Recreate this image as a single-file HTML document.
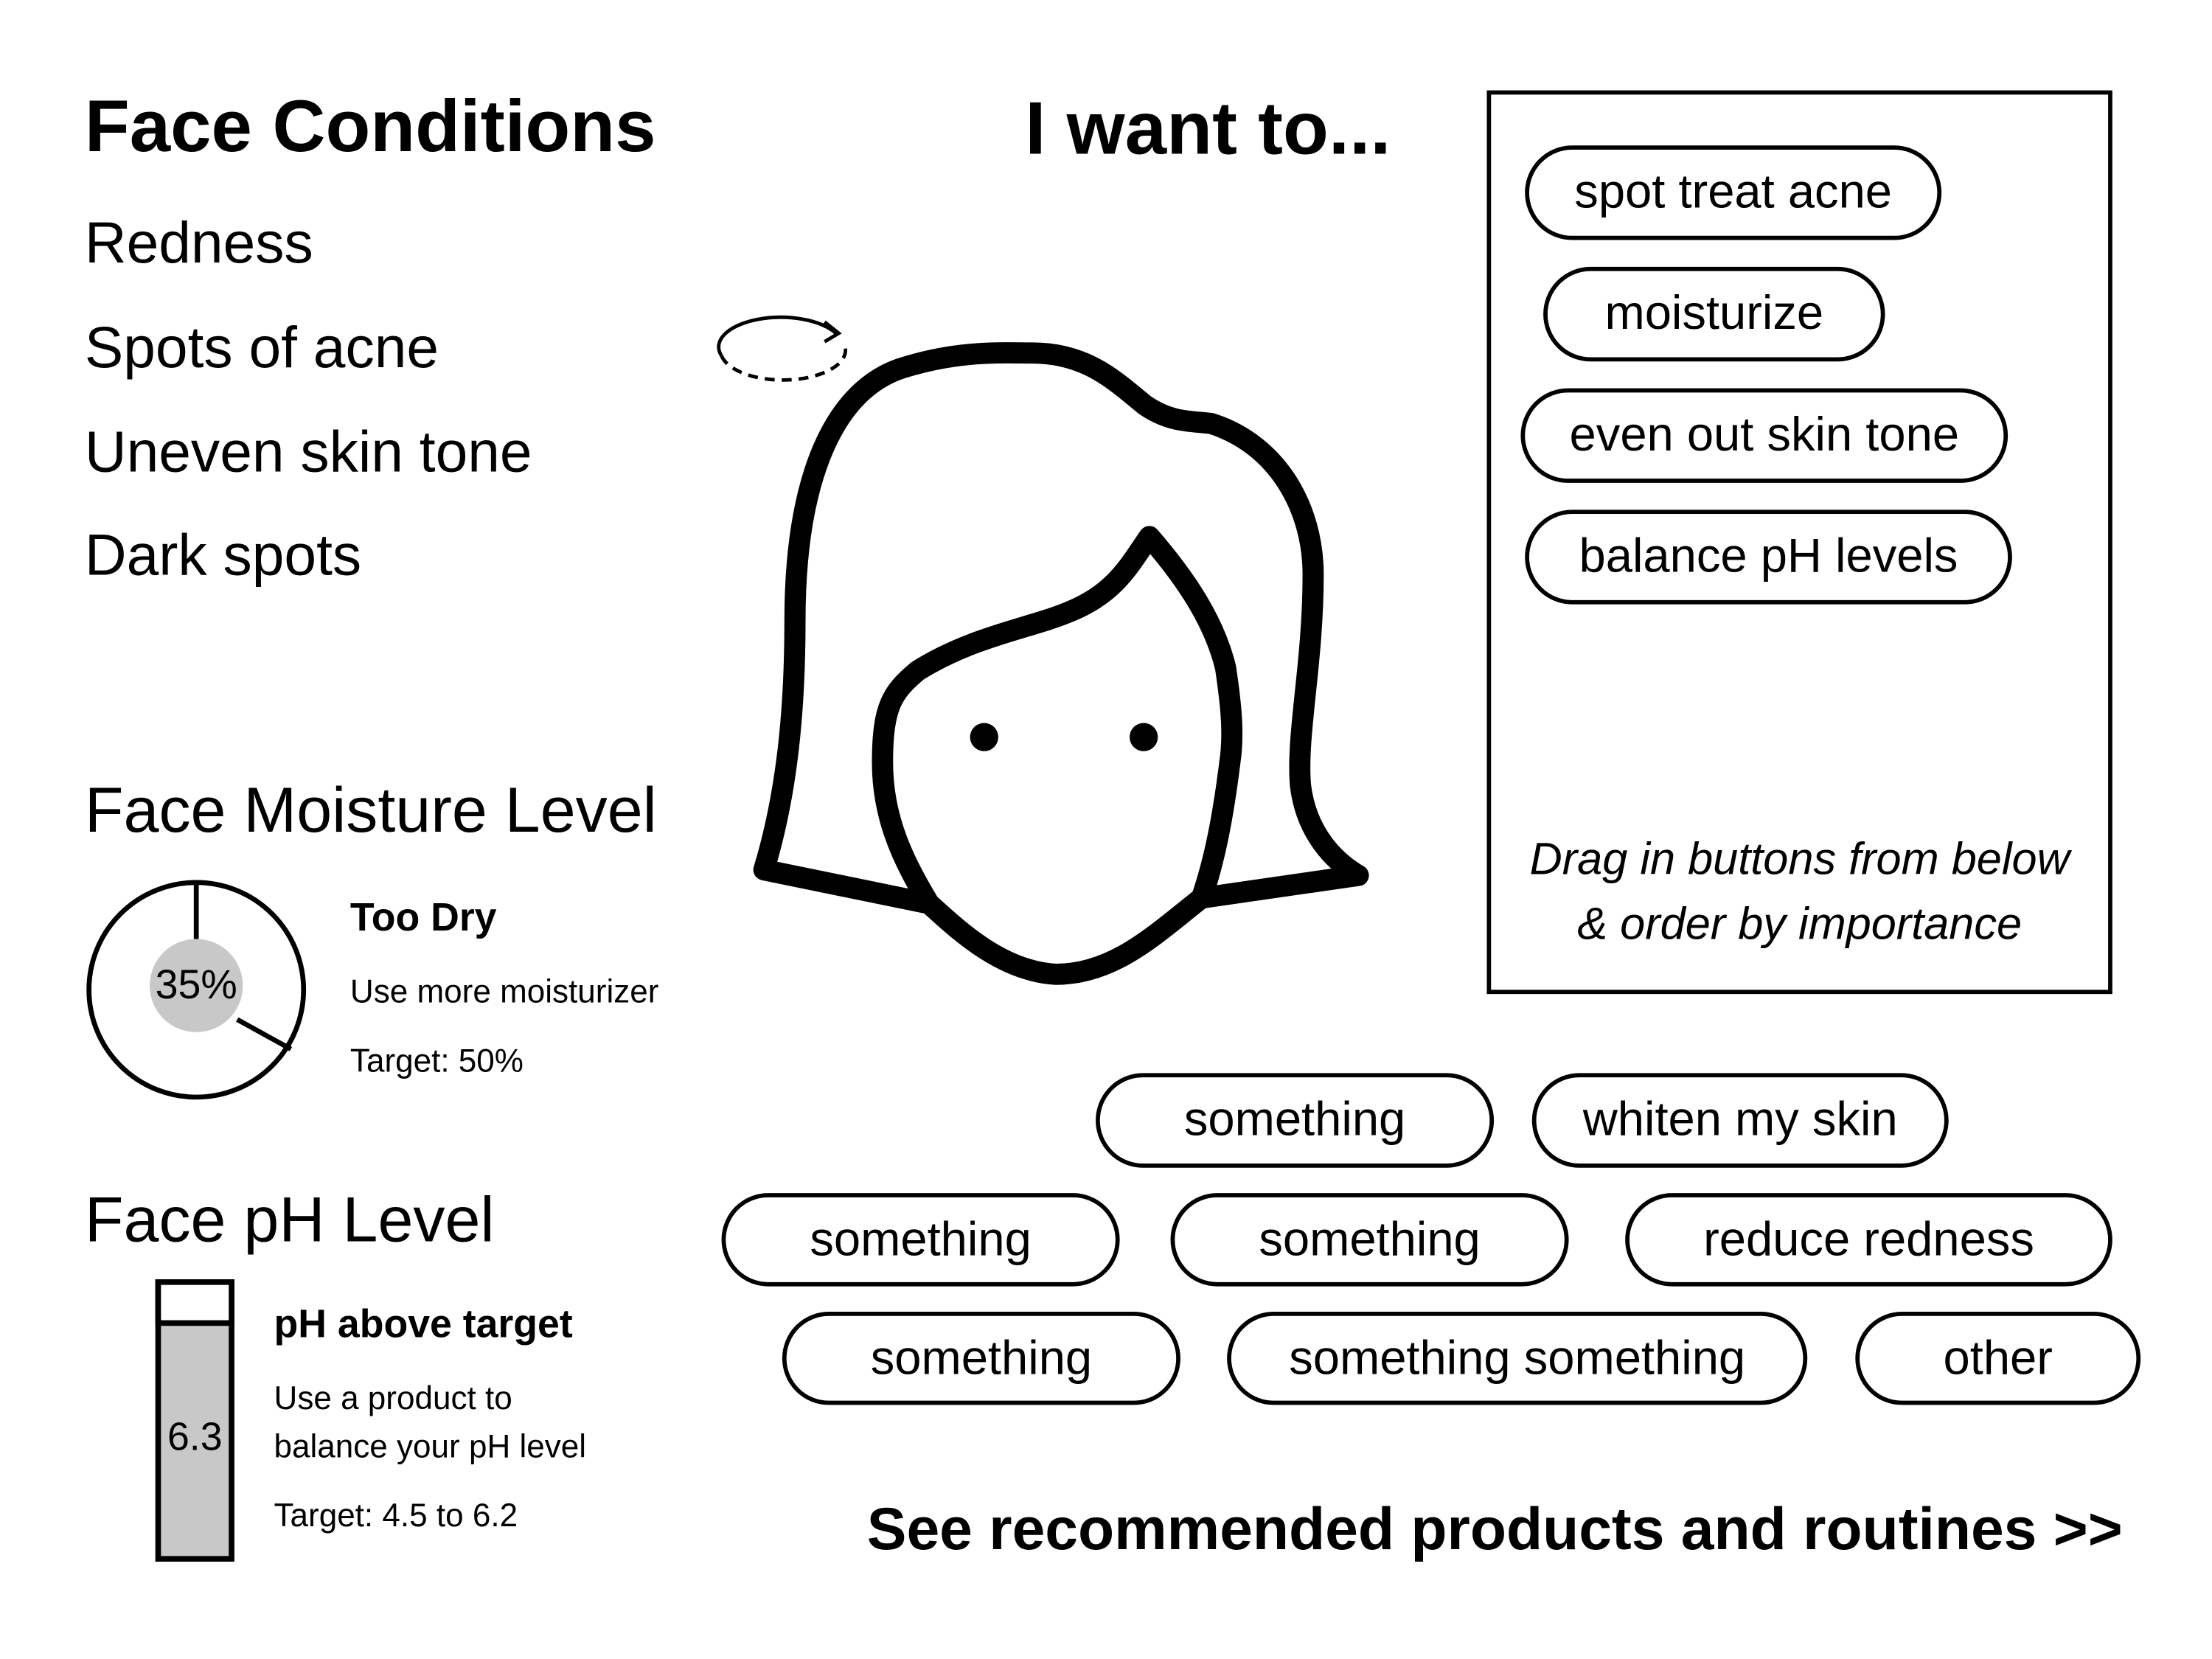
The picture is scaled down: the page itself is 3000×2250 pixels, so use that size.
<!DOCTYPE html>
<html><head><meta charset="utf-8"><style>
html,body{margin:0;padding:0;background:#fff;}
#w{width:1552px;height:1164px;position:relative;transform:scale(1.915,1.915);transform-origin:0 0;font-family:"Liberation Sans",sans-serif;color:#000;}
.t{position:absolute;white-space:nowrap;line-height:1;}
.p{position:absolute;box-sizing:border-box;border:3px solid #000;border-radius:34px;font-size:34px;display:flex;align-items:center;justify-content:center;white-space:nowrap;background:#fff;}
</style></head><body><div id="w">
<div class="t" style="left:60px;top:64px;font-size:52px;font-weight:bold;">Face Conditions</div>
<div class="t" style="left:60px;top:152px;font-size:41px;">Redness</div>
<div class="t" style="left:60px;top:226px;font-size:41px;">Spots of acne</div>
<div class="t" style="left:60px;top:300px;font-size:41px;">Uneven skin tone</div>
<div class="t" style="left:60px;top:373px;font-size:41px;">Dark spots</div>
<div class="t" style="left:726px;top:65px;font-size:53px;font-weight:bold;">I want to...</div>
<div style="position:absolute;left:1053px;top:64px;width:443px;height:640px;box-sizing:border-box;border:3px solid #000;"></div>
<div class="p" style="left:1080px;top:103px;width:295px;height:67px;">spot treat acne</div>
<div class="p" style="left:1093px;top:189px;width:242px;height:67px;">moisturize</div>
<div class="p" style="left:1077px;top:275px;width:345px;height:67px;">even out skin tone</div>
<div class="p" style="left:1080px;top:361px;width:345px;height:67px;">balance pH levels</div>
<div class="t" style="left:1053px;width:443px;text-align:center;top:592px;font-size:32px;font-style:italic;">Drag in buttons from below</div>
<div class="t" style="left:1053px;width:443px;text-align:center;top:638px;font-size:32px;font-style:italic;">&amp; order by importance</div>
<div class="t" style="left:60px;top:551px;font-size:45px;">Face Moisture Level</div>
<svg style="position:absolute;left:0;top:0" width="1552" height="1164">
<circle cx="139" cy="701" r="76" fill="none" stroke="#000" stroke-width="3.5"/>
<circle cx="139" cy="698" r="33" fill="#c8c8c8"/>
<line x1="139" y1="625" x2="139" y2="665" stroke="#000" stroke-width="3.5"/>
<line x1="168" y1="722" x2="206" y2="743" stroke="#000" stroke-width="3.5"/>
<rect x="112" y="908" width="52" height="196" fill="#c8c8c8" stroke="#000" stroke-width="4"/>
<rect x="112" y="908" width="52" height="29" fill="#fff" stroke="#000" stroke-width="4"/>
<g fill="none" stroke="#000" stroke-width="15" stroke-linejoin="round" stroke-linecap="round">
<path d="M658,640 L541,616 C558,560 563,500 563,440 C563,340 590,275 641,260 C680,248 710,250 731,250 C770,250 790,270 811,287 C830,300 845,298 858,300 C905,315 930,360 930,407 C930,470 918,520 921,556 C925,590 945,610 962,620 L851,636"/>
<path d="M851,636 C820,660 790,690 748,690 C710,688 680,660 658,640 C640,610 625,580 625,540 C625,500 632,490 650,475 C690,450 730,445 758,433 C790,420 800,400 814,380 C840,410 860,440 868,473 C872,500 874,520 871,540 C866,580 860,610 851,636 Z"/>
</g>
<circle cx="697" cy="522" r="10" fill="#000"/>
<circle cx="810" cy="522" r="10" fill="#000"/>
<path d="M511,252 A44,21 0 0 0 598,244" fill="none" stroke="#000" stroke-width="2.5" stroke-dasharray="7,5"/>
<path d="M511,252 A44,21 0 0 1 592,236" fill="none" stroke="#000" stroke-width="2.5"/>
<path d="M584,228 L594,236 L584,242" fill="none" stroke="#000" stroke-width="2.5"/>
</svg>
<div class="t" style="left:106px;top:684px;font-size:29px;width:66px;text-align:center;">35%</div>
<div class="t" style="left:248px;top:636px;font-size:28px;font-weight:bold;">Too Dry</div>
<div class="t" style="left:248px;top:691px;font-size:23px;">Use more moisturizer</div>
<div class="t" style="left:248px;top:740px;font-size:23px;">Target: 50%</div>
<div class="t" style="left:60px;top:841px;font-size:45px;">Face pH Level</div>
<div class="t" style="left:112px;top:1004px;font-size:28px;width:52px;text-align:center;">6.3</div>
<div class="t" style="left:194px;top:924px;font-size:28px;font-weight:bold;">pH above target</div>
<div class="t" style="left:194px;top:979px;font-size:23px;">Use a product to</div>
<div class="t" style="left:194px;top:1013px;font-size:23px;">balance your pH level</div>
<div class="t" style="left:194px;top:1062px;font-size:23px;">Target: 4.5 to 6.2</div>
<div class="p" style="left:776px;top:760px;width:282px;height:67px;">something</div>
<div class="p" style="left:1085px;top:760px;width:295px;height:67px;">whiten my skin</div>
<div class="p" style="left:511px;top:845px;width:282px;height:66px;">something</div>
<div class="p" style="left:829px;top:845px;width:282px;height:66px;">something</div>
<div class="p" style="left:1151px;top:845px;width:345px;height:66px;">reduce redness</div>
<div class="p" style="left:554px;top:929px;width:282px;height:66px;">something</div>
<div class="p" style="left:869px;top:929px;width:411px;height:66px;">something something</div>
<div class="p" style="left:1314px;top:929px;width:202px;height:66px;">other</div>
<div class="t" style="left:614px;top:1062px;font-size:42px;font-weight:bold;">See recommended products and routines &gt;&gt;</div>
</div></body></html>
